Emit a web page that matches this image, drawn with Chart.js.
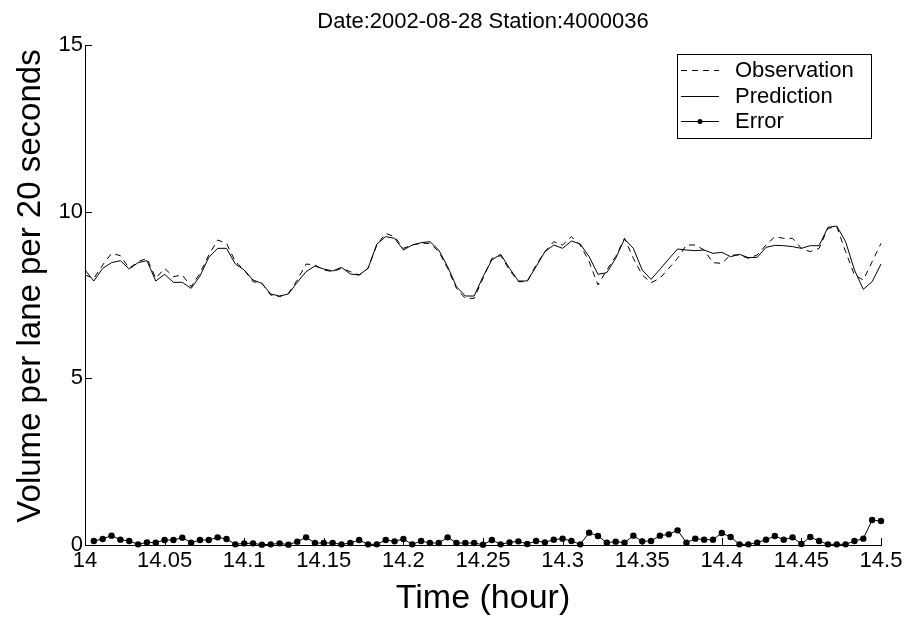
<!DOCTYPE html>
<html>
<head>
<meta charset="utf-8">
<script src="https://cdn.jsdelivr.net/npm/chart.js@4.4.1/dist/chart.umd.min.js"></script>
<style>
  html, body { margin: 0; padding: 0; background: #fff; }
  canvas { display: block; }
</style>
</head>
<body>
<canvas id="chart" width="909" height="618"></canvas>
<script>
// Loop detector 4000036, 2002-08-28, 14:00 to 14:30, one sample every 20 seconds
const TITLE = 'Date:2002-08-28 Station:4000036';
const X_TITLE = 'Time (hour)';
const Y_TITLE = 'Volume per lane per 20 seconds';
const START_HOUR = 14;
const STEP_HOURS = 20 / 3600;

// Observed volume per lane per 20 s (samples 0..90)
const observation = [
  8.10, 8.00, 8.40, 8.75, 8.68, 8.30, 8.50, 8.60, 8.00, 8.30,
  8.05, 8.10, 7.75, 8.15, 8.70, 9.15, 9.05, 8.50, 8.25, 7.90,
  7.85, 7.50, 7.45, 7.55, 7.95, 8.43, 8.40, 8.25, 8.20, 8.30,
  8.20, 8.10, 8.30, 9.00, 9.35, 9.25, 8.90, 9.00, 9.05, 9.05,
  8.80, 8.30, 7.70, 7.40, 7.40, 8.00, 8.60, 8.68, 8.25, 7.90,
  7.90, 8.40, 8.80, 9.10, 9.00, 9.25, 9.00, 8.50, 7.80, 8.25,
  8.65, 9.20, 8.60, 8.10, 7.87, 8.00, 8.30, 8.60, 9.00, 9.00,
  8.85, 8.47, 8.45, 8.70, 8.70, 8.60, 8.70, 9.00, 9.25, 9.20,
  9.20, 8.90, 8.80, 8.90, 9.50, 9.55, 8.80, 8.10, 7.95, 8.50,
  9.05
];

// Predicted volume (samples 0..90)
const prediction = [
  8.25, 7.92, 8.30, 8.47, 8.53, 8.28, 8.47, 8.53, 7.92, 8.12,
  7.88, 7.88, 7.70, 8.07, 8.63, 8.90, 8.90, 8.43, 8.25, 7.95,
  7.85, 7.53, 7.47, 7.53, 7.88, 8.20, 8.37, 8.28, 8.22, 8.33,
  8.13, 8.10, 8.30, 9.03, 9.25, 9.20, 8.85, 9.00, 9.07, 9.10,
  8.85, 8.35, 7.75, 7.47, 7.47, 8.05, 8.55, 8.72, 8.30, 7.92,
  7.92, 8.35, 8.80, 9.00, 8.90, 9.12, 9.03, 8.65, 8.12, 8.17,
  8.60, 9.18, 8.90, 8.25, 7.97, 8.27, 8.58, 8.88, 8.85, 8.83,
  8.85, 8.75, 8.78, 8.65, 8.72, 8.62, 8.63, 8.93, 8.99, 8.98,
  8.95, 8.90, 8.98, 8.98, 9.53, 9.57, 9.10, 8.25, 7.67, 7.90,
  8.43
];

// Prediction error (samples 1..90)
const error = [
  0.12, 0.18, 0.28, 0.16, 0.12, 0.02, 0.08, 0.07, 0.15, 0.15,
  0.22, 0.07, 0.15, 0.15, 0.23, 0.18, 0.02, 0.05, 0.05, 0.01,
  0.02, 0.05, 0.01, 0.10, 0.23, 0.06, 0.06, 0.06, 0.02, 0.06,
  0.15, 0.02, 0.02, 0.15, 0.11, 0.18, 0.02, 0.12, 0.06, 0.06,
  0.23, 0.06, 0.06, 0.06, 0.01, 0.15, 0.02, 0.08, 0.11, 0.03,
  0.12, 0.08, 0.16, 0.19, 0.12, 0.02, 0.37, 0.27, 0.07, 0.10,
  0.07, 0.28, 0.11, 0.12, 0.28, 0.32, 0.44, 0.07, 0.19, 0.16,
  0.16, 0.36, 0.24, 0.02, 0.02, 0.07, 0.16, 0.27, 0.16, 0.23,
  0.03, 0.24, 0.12, 0.02, 0.02, 0.02, 0.12, 0.19, 0.75, 0.72
];

const xTickValues = [14, 14.05, 14.1, 14.15, 14.2, 14.25, 14.3, 14.35, 14.4, 14.45, 14.5];
const yTickValues = [0, 5, 10, 15];

const FONT = "'Liberation Sans', Arial, Helvetica, sans-serif";
const TICK_LEN = 7;

const hourAt = k => START_HOUR + k * STEP_HOURS;
const toPoints = (values, firstIndex) => values.map((v, i) => ({ x: hourAt(i + firstIndex), y: v }));

// Tick marks pointing into the plot
const inwardTicks = {
  id: 'inwardTicks',
  afterDraw(chart) {
    const { ctx, chartArea: a, scales: { x, y } } = chart;
    ctx.save();
    ctx.strokeStyle = '#000';
    ctx.lineWidth = 1;
    ctx.beginPath();
    x.ticks.forEach(t => {
      const px = Math.round(x.getPixelForValue(t.value)) + 0.5;
      ctx.moveTo(px, a.bottom);
      ctx.lineTo(px, a.bottom - TICK_LEN);
    });
    y.ticks.forEach(t => {
      const py = Math.round(y.getPixelForValue(t.value)) + 0.5;
      ctx.moveTo(a.left, py);
      ctx.lineTo(a.left + TICK_LEN, py);
    });
    ctx.stroke();
    ctx.restore();
  }
};

// Plot title over the axes and the rotated y-axis label
const axisTexts = {
  id: 'axisTexts',
  afterDraw(chart) {
    const { ctx, chartArea: a } = chart;
    ctx.save();
    ctx.fillStyle = '#000';
    ctx.textAlign = 'center';
    ctx.textBaseline = 'middle';
    ctx.font = `22px ${FONT}`;
    ctx.fillText(TITLE, (a.left + a.right) / 2, 22);
    ctx.translate(31, 286);
    ctx.rotate(-Math.PI / 2);
    ctx.font = `33px ${FONT}`;
    ctx.fillText(Y_TITLE, 0, 0);
    ctx.restore();
  }
};

// Boxed legend in the upper right, samples drawn from each dataset's style
const boxLegend = {
  id: 'boxLegend',
  afterDatasetsDraw(chart) {
    const { ctx } = chart;
    const box = { x: 677, y: 54, w: 194, h: 84 };
    const rows = [70, 96, 121];
    ctx.save();
    ctx.fillStyle = '#fff';
    ctx.fillRect(box.x, box.y, box.w, box.h);
    ctx.strokeStyle = '#000';
    ctx.lineWidth = 1;
    ctx.strokeRect(box.x + 0.5, box.y + 0.5, box.w, box.h);
    ctx.font = `22px ${FONT}`;
    ctx.textBaseline = 'middle';
    ctx.textAlign = 'left';
    chart.data.datasets.forEach((ds, i) => {
      const yy = rows[i] + 0.5;
      ctx.strokeStyle = ds.borderColor;
      ctx.lineWidth = ds.borderWidth;
      ctx.setLineDash(ds.borderDash || []);
      ctx.beginPath();
      ctx.moveTo(681, yy);
      ctx.lineTo(719, yy);
      ctx.stroke();
      ctx.setLineDash([]);
      if (ds.pointRadius > 0) {
        ctx.fillStyle = ds.pointBackgroundColor;
        ctx.beginPath();
        ctx.arc(700, yy, 2.5, 0, Math.PI * 2);
        ctx.fill();
      }
      ctx.fillStyle = '#000';
      ctx.fillText(ds.label, 735, rows[i] + 1);
    });
    ctx.restore();
  }
};

Chart.defaults.font.family = FONT;
Chart.defaults.color = '#000';

new Chart(document.getElementById('chart'), {
  type: 'line',
  data: {
    datasets: [
      {
        label: 'Observation',
        data: toPoints(observation, 0),
        borderColor: '#000',
        borderWidth: 1,
        borderDash: [6, 5],
        pointRadius: 0,
        tension: 0,
        clip: false
      },
      {
        label: 'Prediction',
        data: toPoints(prediction, 0),
        borderColor: '#000',
        borderWidth: 1,
        pointRadius: 0,
        tension: 0,
        clip: false
      },
      {
        label: 'Error',
        data: toPoints(error, 1),
        borderColor: '#000',
        borderWidth: 1,
        pointRadius: 3.2,
        pointBackgroundColor: '#000',
        pointBorderColor: '#000',
        pointBorderWidth: 0,
        tension: 0,
        clip: false
      }
    ]
  },
  options: {
    responsive: false,
    animation: false,
    events: [],
    layout: { padding: { top: 45, right: 28, bottom: 0, left: 0 } },
    plugins: {
      legend: { display: false },
      tooltip: { enabled: false },
      title: { display: false }
    },
    scales: {
      x: {
        type: 'linear',
        min: 14,
        max: 14.5,
        afterBuildTicks: s => { s.ticks = xTickValues.map(v => ({ value: v })); },
        afterFit: s => { s.height = 73; },
        ticks: {
          callback: v => String(+Number(v).toFixed(2)),
          font: { size: 22 },
          padding: 3,
          maxRotation: 0,
          autoSkip: false
        },
        grid: { display: false, drawTicks: false },
        border: { display: true, color: '#000', width: 1 },
        title: {
          display: true,
          text: X_TITLE,
          font: { size: 34, lineHeight: 1 },
          padding: { top: 0, bottom: 2 }
        }
      },
      y: {
        type: 'linear',
        min: 0,
        max: 15,
        afterBuildTicks: s => { s.ticks = yTickValues.map(v => ({ value: v })); },
        afterFit: s => { s.width = 85; },
        ticks: {
          font: { size: 22 },
          padding: 2
        },
        grid: { display: false, drawTicks: false },
        border: { display: true, color: '#000', width: 1 }
      }
    }
  },
  plugins: [inwardTicks, axisTexts, boxLegend]
});
</script>
</body>
</html>
